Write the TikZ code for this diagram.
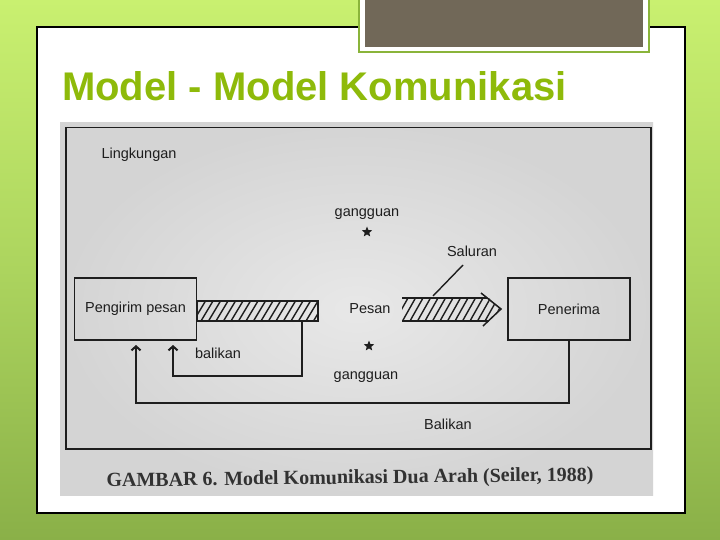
\documentclass[tikz,border=0pt]{standalone}
\usepackage{fontspec}
\setmainfont{Liberation Sans}
\newfontfamily\capfont{Liberation Serif}
\usetikzlibrary{arrows.meta,shapes.geometric}

\definecolor{bgtop}{RGB}{201,240,112}
\definecolor{bgmid}{RGB}{172,212,94}
\definecolor{bgbot}{RGB}{138,176,72}
\definecolor{titlegreen}{RGB}{142,186,10}
\definecolor{tabgreen}{RGB}{138,180,58}
\definecolor{tabbrown}{RGB}{113,104,88}
\definecolor{ink}{RGB}{30,30,30}
\definecolor{photoin}{RGB}{232,232,232}
\definecolor{photoout}{RGB}{212,212,212}
\definecolor{capgray}{RGB}{50,50,50}

\begin{document}
\begin{tikzpicture}[x=1pt,y=-1pt,
  line/.style={draw=ink, line width=1.5pt},
  lbl/.style={font=\fontsize{14.5}{16}\selectfont, text=ink, inner sep=0pt},
  boxnode/.style={draw=ink, line width=1.5pt, minimum width=122pt, minimum height=62pt, inner sep=0pt, font=\fontsize{14.5}{16}\selectfont, text=ink},
  hatchline/.style={draw=ink, line width=1.4pt},
  upar/.style={-{Straight Barb[length=4pt,width=9pt,line width=2pt]}},
  starnode/.style={star, star points=5, star point ratio=2.3, fill=ink, minimum size=11pt, inner sep=0pt}
]
\useasboundingbox (0,0) rectangle (720,540);
% background
\fill[top color=bgtop, bottom color=bgbot, middle color=bgmid] (0,0) rectangle (720,540);
% slide
\draw[fill=white, line width=1.3pt, draw=black] (37,27) rectangle (685,513);
% tab
\fill[tabgreen] (358,0) rectangle (650,53);
\fill[white] (360,0) rectangle (648,51);
\fill[tabbrown] (365,0) rectangle (643,47);
% title
\node[anchor=base west, inner sep=0pt, text=titlegreen, font=\fontsize{40}{48}\selectfont\bfseries] (title) at (62,101) {Model - Model Komunikasi};
% photo
\shade[inner color=photoin, outer color=photoout] (60,123) rectangle (653,495);
% environment frame
\node[draw=ink, line width=1.5pt, minimum width=585pt, minimum height=321pt, anchor=north west, inner sep=0pt] (env) at (65,127) {};
\node[lbl] (lingk) at (139,155) {Lingkungan};

% boxes
\node[boxnode] (pengirim) at (135.5,309) {Pengirim pesan};
\node[boxnode] (penerima) at (569,309) {Penerima};

% hatched bar from sender
\node[draw=ink, line width=1.5pt, minimum width=121pt, minimum height=20pt, anchor=west, inner sep=0pt] (bar) at (196,311) {};
\begin{scope}
  \clip (196,301) rectangle (317,321);
  \foreach \i in {186,193.5,...,330} {\draw[hatchline] (\i,321) -- (\i+12,301);}
\end{scope}

% hatched arrow to receiver
\begin{scope}
  \clip (402,298) -- (489,298) -- (500,309) -- (489,321) -- (402,321) -- cycle;
  \foreach \i in {395,402.5,...,505} {\draw[hatchline] (\i,321) -- (\i+13,298);}
\end{scope}
\coordinate (arrtl) at (402,298);
\coordinate (arrtr) at (487,298);
\coordinate (arrbl) at (402,321);
\coordinate (arrbr) at (489,321);
\coordinate (headtop) at (481,293);
\coordinate (headtip) at (501,309);
\coordinate (headbot) at (483,326);
\draw[line] (arrtl) -- (arrtr);
\draw[line] (arrbl) -- (arrbr);
\draw[line, line join=miter] (headtop) -- (headtip) -- (headbot);

% labels
\node[lbl] (gg1) at (367,214) {gangguan};
\node[starnode] (star1) at (367,232) {};
\node[lbl] (sal) at (472,251) {Saluran};
\coordinate (salA) at (463,265);
\coordinate (salB) at (433,296);
\draw[line, line width=1.4pt] (salA) -- (salB);
\node[lbl] (pesan) at (370,309) {Pesan};
\node[starnode] (star2) at (369,346) {};
\node[lbl] (bal1) at (218,353) {balikan};
\node[lbl] (gg2) at (366,377) {gangguan};
\node[lbl] (bal2) at (448,424) {Balikan};

% feedback loops
\coordinate (smalltop) at (302,321);
\coordinate (smallbl) at (173,376);
\coordinate (smallup) at (173,345);
\draw[line, upar] (smalltop) |- (smallbl) -- (smallup);
\coordinate (bigbl) at (136,403);
\coordinate (bigup) at (136,345);
\draw[line, upar] (penerima.south) |- (bigbl) -- (bigup);

% caption
\node[font=\capfont\bfseries\fontsize{20}{24}\selectfont, text=capgray, rotate=0.7, inner sep=0pt] (cap) at (350,479) {GAMBAR 6. Model Komunikasi Dua Arah (Seiler, 1988)};
\end{tikzpicture}
\end{document}
